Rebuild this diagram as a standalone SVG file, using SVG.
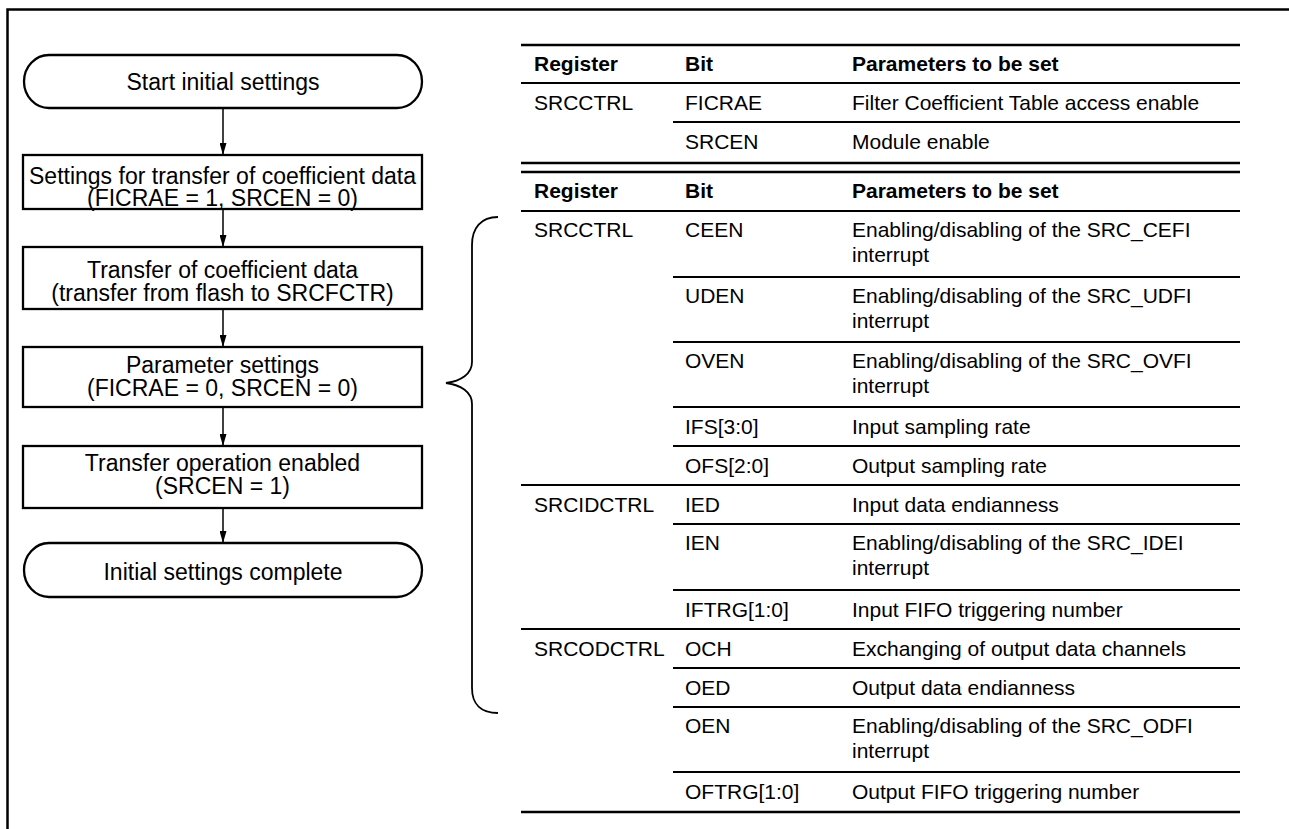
<svg xmlns="http://www.w3.org/2000/svg" width="1289" height="829" viewBox="0 0 1289 829">
<style>
.frame{fill:none;stroke:#000;stroke-width:2.5}
.shape{fill:#fff;stroke:#000;stroke-width:2.3}
.fc{font-family:"Liberation Sans",Arial,sans-serif;font-size:23px;fill:#000;text-anchor:middle}
.conn{fill:none;stroke:#000;stroke-width:1.5}
.tt{font-family:"Liberation Sans",Arial,sans-serif;font-size:21px;fill:#000}
.th{font-weight:bold}
.rl{stroke:#000;stroke-width:2}
.rk{stroke:#000;stroke-width:2.6}
.brace{fill:none;stroke:#000;stroke-width:1.8}
</style>
<defs>
<marker id="arrd" viewBox="0 0 7 12" markerWidth="7" markerHeight="12" refX="3.5" refY="12" orient="0" markerUnits="userSpaceOnUse">
<path d="M0,0 L7,0 L3.5,12 Z" fill="#000"/>
</marker>
</defs>
<rect width="1289" height="829" fill="#fff"/>
<g id="frame">
<path class="frame" d="M7.5,829 L7.5,9.5 L1289,9.5"/>
</g>
<g id="connectors">
<path class="conn" d="M223,108 L223,155" marker-end="url(#arrd)"/>
<path class="conn" d="M223,209 L223,247" marker-end="url(#arrd)"/>
<path class="conn" d="M223,309 L223,347" marker-end="url(#arrd)"/>
<path class="conn" d="M223,407 L223,446" marker-end="url(#arrd)"/>
<path class="conn" d="M223,508 L223,543" marker-end="url(#arrd)"/>
</g>
<g id="start">
<rect class="shape" x="24" y="55" width="398" height="53" rx="25" ry="26.5"/>
<text class="fc" x="223" y="90">Start initial settings</text>
</g>
<g id="step1">
<rect class="shape" x="23" y="155" width="399" height="54"/>
<text class="fc" x="222.5" y="183.5">Settings for transfer of coefficient data</text>
<text class="fc" x="222.5" y="205.5">(FICRAE = 1, SRCEN = 0)</text>
</g>
<g id="step2">
<rect class="shape" x="23" y="247" width="399" height="62"/>
<text class="fc" x="222.5" y="278">Transfer of coefficient data</text>
<text class="fc" x="222.5" y="300.5">(transfer from flash to SRCFCTR)</text>
</g>
<g id="step3">
<rect class="shape" x="23" y="347" width="399" height="60"/>
<text class="fc" x="222.5" y="372.5">Parameter settings</text>
<text class="fc" x="222.5" y="395.5">(FICRAE = 0, SRCEN = 0)</text>
</g>
<g id="step4">
<rect class="shape" x="23" y="446" width="399" height="62"/>
<text class="fc" x="222.5" y="470.5">Transfer operation enabled</text>
<text class="fc" x="222.5" y="493.5">(SRCEN = 1)</text>
</g>
<g id="end">
<rect class="shape" x="24" y="543" width="398" height="54" rx="25" ry="27"/>
<text class="fc" x="223" y="580">Initial settings complete</text>
</g>
<g id="brace">
<path class="brace" d="M498,217 C481,217 472,228 472,245 L472,362 C472,374 461,381 446,383 C461,385 472,392 472,404 L472,688 C472,704 481,713 498,713"/>
</g>
<g id="table1">
<line class="rk" x1="521" y1="45" x2="1240" y2="45"/>
<line class="rl" x1="521" y1="83" x2="1240" y2="83"/>
<line class="rl" x1="673" y1="122" x2="1240" y2="122"/>
<line class="rk" x1="521" y1="163" x2="1240" y2="163"/>
<text class="tt th" x="534" y="71">Register</text>
<text class="tt th" x="685" y="71">Bit</text>
<text class="tt th" x="852" y="71">Parameters to be set</text>
<text class="tt" x="534" y="110">SRCCTRL</text>
<text class="tt" x="685" y="110">FICRAE</text>
<text class="tt" x="852" y="110">Filter Coefficient Table access enable</text>
<text class="tt" x="685" y="149">SRCEN</text>
<text class="tt" x="852" y="149">Module enable</text>
</g>
<g id="table2">
<line class="rk" x1="521" y1="172" x2="1240" y2="172"/>
<line class="rl" x1="521" y1="211" x2="1240" y2="211"/>
<line class="rl" x1="673" y1="277" x2="1240" y2="277"/>
<line class="rl" x1="673" y1="342" x2="1240" y2="342"/>
<line class="rl" x1="673" y1="407" x2="1240" y2="407"/>
<line class="rl" x1="673" y1="446" x2="1240" y2="446"/>
<line class="rl" x1="521" y1="485" x2="1240" y2="485"/>
<line class="rl" x1="673" y1="524" x2="1240" y2="524"/>
<line class="rl" x1="673" y1="590" x2="1240" y2="590"/>
<line class="rl" x1="521" y1="629" x2="1240" y2="629"/>
<line class="rl" x1="673" y1="668" x2="1240" y2="668"/>
<line class="rl" x1="673" y1="707" x2="1240" y2="707"/>
<line class="rl" x1="673" y1="772" x2="1240" y2="772"/>
<line class="rk" x1="521" y1="812" x2="1240" y2="812"/>
<text class="tt th" x="534" y="198">Register</text>
<text class="tt th" x="685" y="198">Bit</text>
<text class="tt th" x="852" y="198">Parameters to be set</text>
<text class="tt" x="534" y="237">SRCCTRL</text>
<text class="tt" x="685" y="237">CEEN</text>
<text class="tt" x="852" y="237">Enabling/disabling of the SRC_CEFI</text>
<text class="tt" x="852" y="262">interrupt</text>
<text class="tt" x="685" y="303">UDEN</text>
<text class="tt" x="852" y="303">Enabling/disabling of the SRC_UDFI</text>
<text class="tt" x="852" y="328">interrupt</text>
<text class="tt" x="685" y="368">OVEN</text>
<text class="tt" x="852" y="368">Enabling/disabling of the SRC_OVFI</text>
<text class="tt" x="852" y="393">interrupt</text>
<text class="tt" x="685" y="434">IFS[3:0]</text>
<text class="tt" x="852" y="434">Input sampling rate</text>
<text class="tt" x="685" y="473">OFS[2:0]</text>
<text class="tt" x="852" y="473">Output sampling rate</text>
<text class="tt" x="534" y="512">SRCIDCTRL</text>
<text class="tt" x="685" y="512">IED</text>
<text class="tt" x="852" y="512">Input data endianness</text>
<text class="tt" x="685" y="550">IEN</text>
<text class="tt" x="852" y="550">Enabling/disabling of the SRC_IDEI</text>
<text class="tt" x="852" y="575">interrupt</text>
<text class="tt" x="685" y="617">IFTRG[1:0]</text>
<text class="tt" x="852" y="617">Input FIFO triggering number</text>
<text class="tt" x="534" y="656">SRCODCTRL</text>
<text class="tt" x="685" y="656">OCH</text>
<text class="tt" x="852" y="656">Exchanging of output data channels</text>
<text class="tt" x="685" y="695">OED</text>
<text class="tt" x="852" y="695">Output data endianness</text>
<text class="tt" x="685" y="733">OEN</text>
<text class="tt" x="852" y="733">Enabling/disabling of the SRC_ODFI</text>
<text class="tt" x="852" y="758">interrupt</text>
<text class="tt" x="685" y="799">OFTRG[1:0]</text>
<text class="tt" x="852" y="799">Output FIFO triggering number</text>
</g>
</svg>
